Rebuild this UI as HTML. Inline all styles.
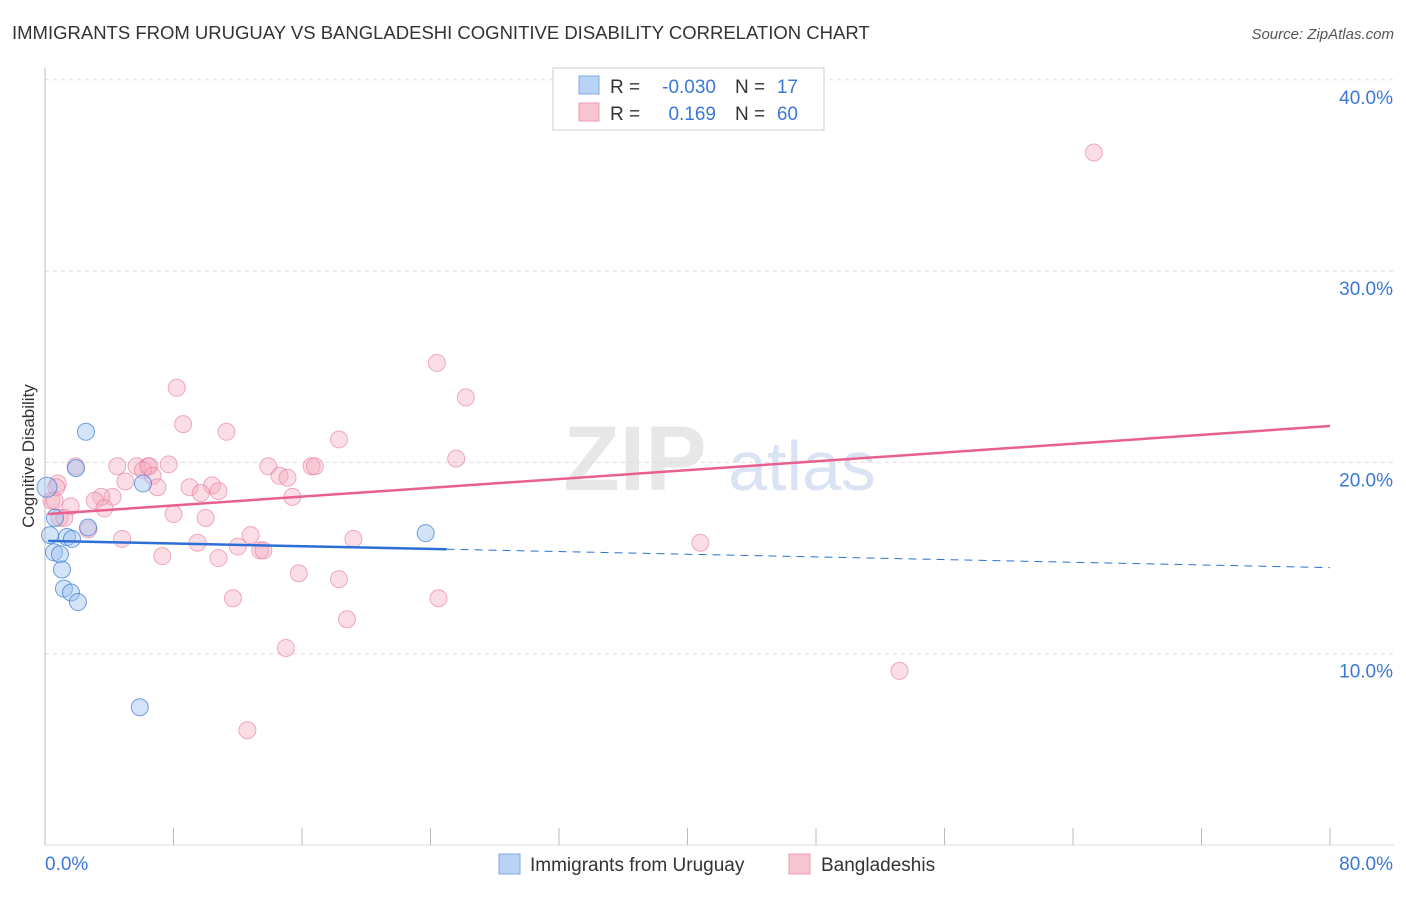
<!DOCTYPE html>
<html><head><meta charset="utf-8"><style>
body{margin:0;background:#fff;font-family:"Liberation Sans",sans-serif}
svg text{font-family:"Liberation Sans",sans-serif}
</style></head><body>
<svg id="c" width="1406" height="892">
<text x="12" y="39" font-size="18.5" fill="#333">IMMIGRANTS FROM URUGUAY VS BANGLADESHI COGNITIVE DISABILITY CORRELATION CHART</text>
<text x="1394" y="39" font-size="15" fill="#555" font-style="italic" text-anchor="end">Source: ZipAtlas.com</text>
<text x="34" y="456" font-size="17" fill="#333" text-anchor="middle" transform="rotate(-90 34 456)">Cognitive Disability</text>
<text x="635" y="490" font-size="92" fill="#ddd" font-family="Liberation Serif" font-weight="bold" text-anchor="middle" opacity="0.7">ZIP</text>
<text x="802" y="490" font-size="70" fill="#c9d8ef" text-anchor="middle" opacity="0.7">atlas</text>
<g id="grid"></g><g id="marks"></g>
<g>
<rect x="553" y="68" width="271" height="62" fill="#fff" stroke="#ccc"/>
<rect x="579" y="76" width="20" height="18" fill="#b9d3f5" stroke="#7fa8e0"/>
<rect x="579" y="103" width="20" height="18" fill="#f8c5d3" stroke="#eb9ab2"/>
<text x="610" y="93" font-size="19" fill="#333">R =</text>
<text x="716" y="93" font-size="19" fill="#3a78d8" text-anchor="end">-0.030</text>
<text x="735" y="93" font-size="19" fill="#333">N =</text>
<text x="798" y="93" font-size="19" fill="#3a78d8" text-anchor="end">17</text>
<text x="610" y="120" font-size="19" fill="#333">R =</text>
<text x="716" y="120" font-size="19" fill="#3a78d8" text-anchor="end">0.169</text>
<text x="735" y="120" font-size="19" fill="#333">N =</text>
<text x="798" y="120" font-size="19" fill="#3a78d8" text-anchor="end">60</text>
</g>
<g>
<rect x="499" y="854" width="21" height="20" fill="#b9d3f5" stroke="#7fa8e0"/>
<text x="530" y="871" font-size="19" fill="#333">Immigrants from Uruguay</text>
<rect x="789" y="854" width="21" height="20" fill="#f8c5d3" stroke="#eb9ab2"/>
<text x="821" y="871" font-size="19" fill="#333">Bangladeshis</text>
</g>
</svg>
<script>
const yTicks=[10,20,30,40];
const yTickLabels=["10.0%","20.0%","30.0%","40.0%"];
const xLabels=["0.0%","80.0%"];
const blueX=[0.12,0.62,0.31,0.56,0.93,1.06,1.18,1.62,2.05,1.37,1.68,2.68,1.93,2.55,6.1,5.9,23.7];
const blueY=[18.7,17.1,16.2,15.3,15.2,14.4,13.4,13.2,12.7,16.1,16.0,16.6,19.7,21.6,18.9,7.2,16.3];
const pinkX=[65.3,24.4,26.2,8.2,8.6,11.3,18.3,25.6,1.9,4.5,5.7,6.4,6.5,7.7,13.9,16.6,16.8,6.1,6.7,14.6,15.1,9.0,7.0,10.4,10.8,9.7,4.2,3.5,3.1,1.6,3.7,5.0,0.8,0.4,0.9,2.7,4.8,8.0,10.0,15.4,12.8,9.5,12.0,13.4,13.6,7.3,10.8,19.2,40.8,15.8,18.3,11.7,24.5,18.8,15.0,53.2,12.6,0.7,0.6,1.2];
const pinkY=[36.2,25.2,23.4,23.9,22.0,21.6,21.2,20.2,19.8,19.8,19.8,19.8,19.8,19.9,19.8,19.8,19.8,19.6,19.3,19.3,19.2,18.7,18.7,18.8,18.5,18.4,18.2,18.2,18.0,17.7,17.6,19.0,18.9,18.0,17.1,16.5,16.0,17.3,17.1,18.2,16.2,15.8,15.6,15.4,15.4,15.1,15.0,16.0,15.8,14.2,13.9,12.9,12.9,11.8,10.3,9.1,6.0,18.7,18.0,17.1];
const blueTrend=[15.9,14.5];
const pinkTrend=[17.3,21.9];
const NS="http://www.w3.org/2000/svg";
const X=v=>45+v/80*1285, Y=v=>845-v*19.13;
function mk(t,a,p){const e=document.createElementNS(NS,t);for(const k in a)e.setAttribute(k,a[k]);p.appendChild(e);return e;}
const g=document.getElementById('grid'), m=document.getElementById('marks');
yTicks.forEach((t,i)=>{
 const l=mk('line',{x1:45,x2:1394,y1:Y(t),y2:Y(t),stroke:'#ddd','stroke-dasharray':'4,4'},g);
 
 
 const tx=mk('text',{x:1393,y:Y(t)+24,'font-size':19,fill:'#3a78d8','text-anchor':'end'},g);tx.textContent=yTickLabels[i];
 
 
});
const ax=mk('line',{x1:45,x2:45,y1:68,y2:845,stroke:'#bbb'},g);


const bx=mk('line',{x1:45,x2:1394,y1:845,y2:845,stroke:'#ddd'},g);


for(let i=0;i<=10;i++){const t=mk('line',{x1:X(i*8),x2:X(i*8),y1:828,y2:845,stroke:'#bbb'},g);
 
 }
[[0,'start',45],[80,'end',1393]].forEach((d,i)=>{const t=mk('text',{x:d[2],y:870,'font-size':19,fill:'#3a78d8','text-anchor':d[1]},g);t.textContent=xLabels[i];
 
 });
pinkX.forEach((x,i)=>{const c=mk('circle',{cx:X(x),cy:Y(pinkY[i]),r:8.5,fill:'rgba(244,170,192,0.4)',stroke:'rgba(230,120,155,0.6)','stroke-width':1},m);
 
 });
blueX.forEach((x,i)=>{const c=mk('circle',{cx:X(x),cy:Y(blueY[i]),r:i==0?10:8.5,fill:'rgba(160,195,240,0.45)',stroke:'rgba(60,120,210,0.7)','stroke-width':1},m);
 
 });
const bAt=v=>blueTrend[0]+(blueTrend[1]-blueTrend[0])*v/80;
const l1=mk('line',{x1:X(0.2),y1:Y(pinkTrend[0]),x2:X(80),y2:Y(pinkTrend[1]),stroke:'#e8608e','stroke-width':2.5},m);


const l2=mk('line',{x1:X(0.2),y1:Y(bAt(0.2)),x2:X(25),y2:Y(bAt(25)),stroke:'#2d6fd6','stroke-width':2.5},m);


const l3=mk('line',{x1:X(25),y1:Y(bAt(25)),x2:X(80),y2:Y(bAt(80)),stroke:'#2d6fd6','stroke-width':1,'stroke-dasharray':'8,6'},m);


</script>
</body></html>
